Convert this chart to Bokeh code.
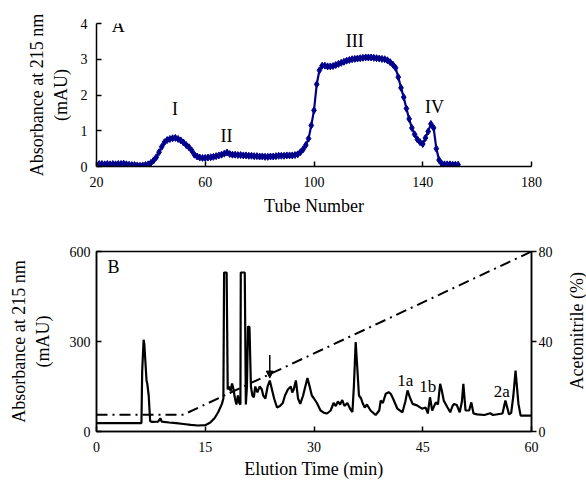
import math
from bokeh.plotting import figure
from bokeh.layouts import column, row
from bokeh.models import Range1d, LinearAxis, FixedTicker, Arrow, NormalHead, ColumnDataSource
from bokeh.core.properties import value
from bokeh.embed import file_html
from bokeh.resources import INLINE

FONT = "Liberation Serif"

# ---------------- Panel A data ----------------
tube = list(range(21, 154))
absA = [0.07, 0.07, 0.06, 0.07, 0.06, 0.07, 0.06, 0.07, 0.07,
        0.08, 0.06, 0.05, 0.04, 0.04, 0.03, 0.02, 0.03, 0.04, 0.06, 0.10,
        0.17, 0.26, 0.40, 0.55, 0.68, 0.74, 0.77, 0.79, 0.80, 0.77,
        0.73, 0.67, 0.60, 0.54, 0.45, 0.33, 0.28, 0.25, 0.24, 0.24,
        0.25, 0.26, 0.27, 0.29, 0.31, 0.33, 0.36, 0.39, 0.35, 0.33,
        0.33, 0.32, 0.32, 0.31, 0.31, 0.30, 0.30, 0.29, 0.29, 0.28,
        0.28, 0.27, 0.27, 0.28, 0.28, 0.29, 0.30, 0.30, 0.30, 0.31,
        0.31, 0.31, 0.32, 0.34, 0.40, 0.48, 0.60, 0.78, 1.15, 1.57,
        2.30, 2.69, 2.82, 2.82, 2.80, 2.80, 2.81, 2.84, 2.87, 2.90,
        2.93, 2.96, 2.98, 3.00, 3.01, 3.02, 3.03, 3.04, 3.05, 3.05,
        3.05, 3.04, 3.03, 3.02, 3.01, 3.00, 2.97, 2.92, 2.85, 2.76,
        2.50, 2.20, 1.94, 1.62, 1.33, 1.08, 0.90, 0.76, 0.68, 0.63,
        0.80, 0.98, 1.19, 1.08, 0.50, 0.18, 0.08, 0.06, 0.06, 0.06,
        0.05, 0.05, 0.05]
a_ticks_x = [20, 60, 100, 140, 180]
a_ticks_y = [0, 1, 2, 3, 4]
a_peak_names = ["I", "II", "III", "IV"]
a_peak_x = [48.9, 67.8, 115.0, 144.3]
a_peak_y = [1.62, 0.84, 3.50, 1.66]

# ---------------- Panel B data ----------------
timeB = [0, 6.2, 6.3, 6.5, 6.6, 6.9, 7.0, 7.2, 7.4, 7.6, 8.5, 8.8, 9.0, 10, 11, 12, 13, 14, 15,
         15.7, 16.3, 16.8, 17.3, 17.5, 17.6, 17.95, 18.1, 18.3, 18.5, 18.7, 18.9, 19.1, 19.3,
         19.5, 19.7, 19.85, 19.9, 20.45, 20.6, 20.75, 20.9, 21.1, 21.3, 21.5, 21.7, 21.9,
         22.2, 22.5, 22.8, 23.0, 23.3, 23.6, 23.9, 24.2, 24.5, 24.9, 25.3, 25.7, 26.0, 26.4,
         26.8, 27.0, 27.2, 27.5, 27.8, 28.1, 28.5, 28.8, 29.1, 29.4, 29.7, 30.0, 30.4, 30.9,
         31.4, 31.8, 32.3, 32.7, 33.0, 33.3, 33.6, 33.9, 34.2, 34.6, 35.0, 35.3, 35.5, 35.75,
         36.0, 36.2, 36.5, 36.7, 37.0, 37.3, 37.8, 38.5, 39.0, 39.2, 39.5, 39.9, 40.3, 40.6,
         40.9, 41.5, 42.2, 42.6, 42.9, 43.2, 43.6, 44.2, 44.9, 45.4, 45.7, 46.0, 46.3, 46.8,
         47.1, 47.4, 47.6, 47.9, 48.4, 48.8, 49.1, 49.3, 49.7, 50.1, 50.4, 50.6, 50.9, 51.4,
         51.7, 52.0, 52.5, 53.5, 54.3, 54.7, 56.0, 56.4, 56.9, 57.2, 57.5, 57.8, 58.2, 58.5, 60]
absB = [28, 28, 200, 306, 290, 170, 160, 120, 35, 32, 33, 44, 33, 30, 28, 25, 22, 20, 21,
        30, 45, 65, 92, 110, 530, 530, 140, 150, 135, 160, 140, 110, 90,
        120, 95, 90, 530, 530, 90, 150, 350, 348, 150, 120, 114, 150,
        130, 150, 140, 120, 110, 150, 170, 140, 110, 80, 85, 95, 120, 140,
        150, 130, 140, 170, 110, 92, 120, 150, 178, 150, 120, 110, 95, 70,
        62, 60, 70, 95, 85, 100, 90, 105, 85, 95, 75, 65, 150, 298,
        200, 120, 110, 95, 80, 90, 70, 55, 70, 103, 95, 126, 131, 125,
        110, 76, 64, 100, 137, 115, 92, 87, 76, 80, 60, 114, 70, 97,
        90, 159, 140, 103, 81, 64, 85, 92, 88, 64, 100, 159, 70, 70,
        97, 60, 57, 55, 61, 55, 60, 103, 57, 62, 120, 203, 92, 53, 53]
grad_t = [0, 12, 60]
grad_acn = [7.5, 7.5, 80]
b_ticks_x = [0, 15, 30, 45, 60]
b_ticks_y = [0, 300, 600]
b_ticks_r = [0, 40, 80]
b_peak_names = ["1a", "1b", "2a"]
b_peak_x = [42.6, 45.7, 55.9]
b_peak_y = [170, 150, 133]
right_title = "Acetonitrile (%)"


def style_axis(ax, tick_in, tick_out):
    ax.axis_line_color = "black"
    ax.axis_line_width = 1.5
    ax.major_tick_line_color = "black"
    ax.major_tick_line_width = 1.5
    ax.major_tick_in = tick_in
    ax.major_tick_out = tick_out
    ax.minor_tick_line_color = None
    ax.major_label_text_font = FONT
    ax.major_label_text_font_size = "14px"
    ax.major_label_text_color = "black"
    ax.axis_label_text_font = FONT
    ax.axis_label_text_font_size = "18px"
    ax.axis_label_text_font_style = "normal"
    ax.axis_label_text_color = "black"


# ---------------- Figure A ----------------
pA = figure(width=586, height=230, output_backend="svg", toolbar_location=None,
            x_range=Range1d(20, 180), y_range=Range1d(0, 4),
            min_border_left=96, min_border_right=55, min_border_top=23, min_border_bottom=64)
pA.outline_line_color = None
pA.grid.grid_line_color = None
pA.xaxis.ticker = FixedTicker(ticks=a_ticks_x)
pA.yaxis.ticker = FixedTicker(ticks=a_ticks_y)
style_axis(pA.xaxis[0], 5, 0)
style_axis(pA.yaxis[0], 5, 0)
pA.xaxis.axis_label = "Tube Number"
pA.yaxis.axis_label = "Absorbance at 215 nm\n(mAU)"
pA.xaxis.major_label_standoff = 10
pA.yaxis.major_label_standoff = 9
pA.xaxis.axis_label_standoff = 6
pA.yaxis.axis_label_standoff = 7

srcA = ColumnDataSource(dict(x=tube, y=absA))
pA.line("x", "y", source=srcA, line_color="#00008b", line_width=2.2)
pA.scatter("x", "y", source=srcA, marker="diamond", size=7, fill_color="#00008b",
           line_color="#00008b")
pA.text(x=a_peak_x, y=a_peak_y, text=a_peak_names, text_font=value(FONT),
        text_font_size="18px", text_align="center", text_baseline="middle", text_color="black")
pA.text(x=[28], y=[3.94], text=["A"], text_font=value(FONT),
        text_font_size="18px", text_align="center", text_baseline="middle", text_color="black")

# ---------------- Figure B ----------------
pB = figure(width=566, height=252, output_backend="svg", toolbar_location=None,
            x_range=Range1d(0, 60), y_range=Range1d(0, 600),
            min_border_left=96, min_border_right=35, min_border_top=21, min_border_bottom=51)
pB.extra_y_ranges = {"acn": Range1d(0, 80)}
pB.outline_line_color = "black"
pB.outline_line_width = 1.5
pB.grid.grid_line_color = None
pB.xaxis.ticker = FixedTicker(ticks=b_ticks_x)
pB.yaxis.ticker = FixedTicker(ticks=b_ticks_y)
style_axis(pB.xaxis[0], 5, 0)
style_axis(pB.yaxis[0], 5, 0)
pB.xaxis.axis_label = "Elution Time (min)"
pB.yaxis.axis_label = "Absorbance at 215 nm\n(mAU)"
pB.xaxis.major_label_standoff = 10
pB.yaxis.major_label_standoff = 6
pB.xaxis.axis_label_standoff = 4
pB.yaxis.axis_label_standoff = 14

rax = LinearAxis(y_range_name="acn", ticker=FixedTicker(ticks=b_ticks_r))
style_axis(rax, 0, 5)
rax.major_label_standoff = 2
pB.add_layout(rax, "right")

pB.line(timeB, absB, line_color="black", line_width=2.2)
pB.line(grad_t, grad_acn, y_range_name="acn", line_color="black", line_width=2,
        line_dash="11 5 2 5")
pB.add_layout(Arrow(end=NormalHead(size=7, fill_color="black", line_color="black"),
                    x_start=23.9, y_start=255, x_end=23.9, y_end=178,
                    line_color="black", line_width=1.5))
pB.text(x=b_peak_x, y=b_peak_y, text=b_peak_names, text_font=value(FONT),
        text_font_size="17px", text_align="center", text_baseline="middle", text_color="black")
pB.text(x=[2.35], y=[550], text=["B"], text_font=value(FONT),
        text_font_size="18px", text_align="center", text_baseline="middle", text_color="black")

# narrow strip carrying the right-hand axis title (reads bottom-to-top)
pR = figure(width=20, height=252, output_backend="svg", toolbar_location=None,
            x_range=Range1d(0, 1), y_range=Range1d(0, 1), x_axis_type=None, y_axis_type=None,
            min_border_left=0, min_border_right=0, min_border_top=0, min_border_bottom=0)
pR.outline_line_color = None
pR.grid.grid_line_color = None
pR.text(x=[0.5], y=[0.56], text=[right_title], angle=math.pi / 2, text_font=value(FONT),
        text_font_size="18px", text_align="center", text_baseline="middle", text_color="black")

layout = column(pA, row(pB, pR, spacing=0), spacing=0)
open("out.html", "w").write(file_html(layout, INLINE))
